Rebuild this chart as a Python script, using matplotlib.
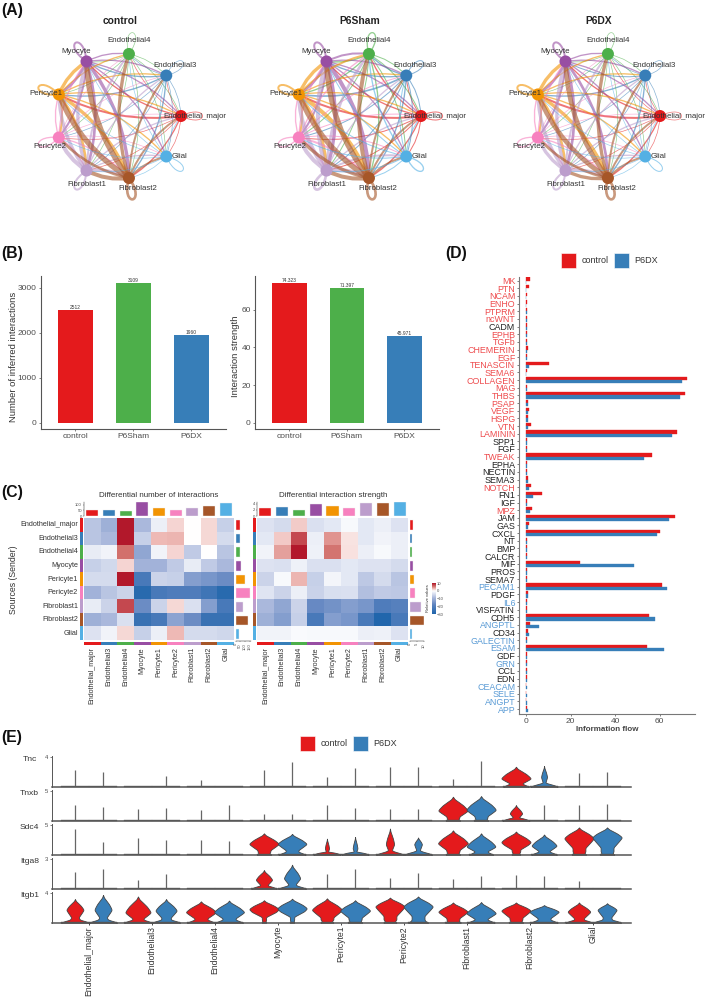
import numpy as np
import matplotlib
matplotlib.use("Agg")
import matplotlib.pyplot as plt
from matplotlib.colors import LinearSegmentedColormap, TwoSlopeNorm
from matplotlib.patches import PathPatch, Circle, Rectangle
from matplotlib.path import Path

plt.rcParams["font.family"] = ["Liberation Sans", "DejaVu Sans"]

W, H = 709, 997

cell_types = ["Endothelial_major", "Endothelial3", "Endothelial4", "Myocyte", "Pericyte1",
              "Pericyte2", "Fibroblast1", "Fibroblast2", "Glial"]
cell_colors = ["#E41A1C", "#377EB8", "#4DAF4A", "#984EA3", "#F29403",
               "#F781BF", "#BC9DCC", "#A65628", "#54B0E4"]

# panel A, edge weights (source in rows, target in columns)
network_titles = ["control", "P6Sham", "P6DX"]
control_weights = [
    [1.2, 1, 1, 2, 3, 1, 1, 2, 1],
    [1, 1, 1, 2, 2, 1, 1, 2, 1],
    [1, 1, 1, 1, 1, 1, 1, 1, 1],
    [2, 2, 2, 3, 4, 3, 4, 5, 2],
    [2, 2, 2, 5, 3, 3, 4, 5, 2],
    [1, 1, 1, 2, 2, 2, 2, 2, 1],
    [2, 2, 3, 5, 5, 6, 3, 5, 2],
    [3, 3, 5, 8, 8, 4, 6, 4, 3],
    [1, 1, 1, 1, 1, 1, 1, 1, 1.5],
]
sham_weights = [
    [1.5, 1.5, 2, 2, 3, 1.5, 1.5, 2, 1.5],
    [1.5, 1.5, 2, 2, 2.5, 1.5, 1.5, 2, 1.5],
    [1.5, 1.5, 2, 2, 2, 1.5, 1.5, 2, 1.5],
    [2, 2, 3, 3, 4, 3, 5, 6, 2],
    [2, 2, 3, 5, 3, 3, 5, 6, 2],
    [1.5, 1.5, 2, 2, 2, 2, 3, 3, 1.5],
    [2, 2, 4, 6, 6, 6, 4, 6, 3],
    [3, 3, 6, 8, 8, 5, 6, 4, 3],
    [1.5, 1.5, 2, 1.5, 1.5, 1.5, 1.5, 1.5, 2],
]
dx_weights = [
    [1, 1, 1, 2, 3, 1, 1, 2, 1],
    [1, 1, 1, 1.5, 2, 1, 1, 2, 1],
    [1, 1, 1, 1, 1, 1, 1, 1, 1],
    [2, 2, 2, 3, 4, 3, 4, 4, 2],
    [2, 2, 2, 5, 3, 3, 4, 5, 2],
    [1, 1, 1, 2, 2, 2, 2, 2, 1],
    [2, 2, 3, 5, 5, 5, 3, 5, 2],
    [3, 3, 5, 7, 7, 4, 5, 4, 3],
    [1, 1, 1, 1, 1, 1, 1, 1, 1.5],
]

# panel B
group_names = ["control", "P6Sham", "P6DX"]
group_colors = ["#E41A1C", "#4DAF4A", "#377EB8"]
interaction_counts = [2512, 3109, 1960]
interaction_strength = [74.323, 71.397, 45.971]

# panel C
diff_number = [
    [-2.5, -3.5, 10, -3, -0.7, 1.8, 0, 1.7, -2],
    [-2.5, -3, 10, -2, 3, 3.2, 0, 1.7, -1.5],
    [-0.8, -0.5, 6, -4, -0.5, 1.8, -2.2, 0, -2.5],
    [-2, -1.6, 1.8, -3.3, -3.3, -2.2, -0.8, -2.2, -3],
    [-1.5, -1.5, 10, -7.5, -1.8, -2, -4.5, -5, -5.5],
    [-3.3, -2.5, -1.8, -9.5, -7.5, -7, -7, -8, -9.5],
    [-0.8, -1.8, 7.8, -5.5, -1.8, 1.7, -1.3, -4.5, -7.5],
    [-3.5, -3, -1.3, -8.5, -7.5, -4.2, -5.5, -8.5, -8.5],
    [-1.2, -0.5, 1.7, -2, -0.7, 3, -1.5, -1.5, -1.7],
]
diff_strength = [
    [-1.2, -1.5, 2.2, -1.3, -1, -0.3, -1, -0.7, -1.2],
    [-1, 2.3, 7.8, -0.7, 4.5, 1.2, -1, -0.5, -0.7],
    [-0.5, 4, 10, -0.6, 5.8, 1.3, -0.7, -0.3, -0.7],
    [-1.2, -1.3, -0.6, -1.3, -1.3, -1, -1.2, -1.2, -1.5],
    [-1.8, -0.3, 3.2, -2, -0.4, -1, -2.3, -1.5, -2.5],
    [-1.1, -1.8, -0.7, -1.9, -1.4, -1.3, -2.7, -2.2, -2.3],
    [-3, -4, -1.8, -5.7, -5.2, -4.5, -5, -7, -6.5],
    [-3.5, -4.5, -2, -7.5, -4.5, -5, -7.5, -10, -7.5],
    [-0.5, -0.5, -0.2, -0.3, -0.3, -0.3, -0.7, -0.6, -1.2],
]
number_top = [52, 52, 42, 130, 70, 55, 70, 90, 118]
number_side = [53, 43, 43, 57, 96, 152, 78, 138, 35]
strength_top = [2.7, 2.9, 2.0, 4.0, 3.2, 2.7, 4.2, 4.3, 4.6]
strength_side = [2.3, 1.8, 1.8, 2.7, 3.0, 3.6, 8.2, 9.8, 1.4]
legend_ticks = [10, 0, -10, -20, -30]

# panel D
pathways = ["MK", "PTN", "NCAM", "ENHO", "PTPRM", "ncWNT", "CADM", "EPHB", "TGFb", "CHEMERIN",
            "EGF", "TENASCIN", "SEMA6", "COLLAGEN", "MAG", "THBS", "PSAP", "VEGF", "HSPG", "VTN",
            "LAMININ", "SPP1", "FGF", "TWEAK", "EPHA", "NECTIN", "SEMA3", "NOTCH", "FN1", "IGF",
            "MPZ", "JAM", "GAS", "CXCL", "NT", "BMP", "CALCR", "MIF", "PROS", "SEMA7",
            "PECAM1", "PDGF", "IL6", "VISFATIN", "CDH5", "ANGPTL", "CD34", "GALECTIN", "ESAM", "GDF",
            "GRN", "CCL", "EDN", "CEACAM", "SELE", "ANGPT", "APP"]
flow_control = [1.6, 1.0, 0.1, 0.1, 0.1, 0.1, 0.2, 0.1, 0.1, 0.6,
                0.4, 10.2, 0.1, 72.6, 0.2, 71.5, 0.9, 1.4, 0.9, 2.3,
                68, 0.4, 0.2, 56.6, 0.1, 0.1, 0.7, 2.0, 7, 0.2,
                2.4, 66.8, 1.1, 60, 0.1, 0.1, 0.1, 24.4, 0.2, 0.5,
                61, 0.6, 0.1, 0.1, 55.4, 1.8, 0.6, 0.2, 54.2, 0.1,
                0.1, 0.2, 0.2, 0, 0, 0, 0.1]
flow_dx = [0, 0, 0, 0, 0.1, 0.1, 0.1, 0.1, 0.1, 0.3,
           0.3, 1.0, 0.05, 70.3, 0.1, 69.2, 0.6, 0.6, 0.6, 0.9,
           65.8, 0.3, 0.1, 53.2, 0.1, 0.1, 0.6, 1.4, 2.8, 0.1,
           1.5, 64.5, 0.7, 59, 0.1, 0.1, 0.1, 48.4, 0.2, 0.5,
           63.4, 0.6, 0.15, 0.1, 57.8, 5.5, 1.0, 0.3, 62.2, 0.1,
           0.2, 0.5, 0.5, 0.1, 0.1, 0.1, 0.7]
red_pathways = ["MK", "PTN", "NCAM", "ENHO", "PTPRM", "ncWNT", "EPHB", "TGFb", "CHEMERIN", "EGF",
                "TENASCIN", "SEMA6", "COLLAGEN", "MAG", "THBS", "PSAP", "VEGF", "HSPG", "VTN",
                "LAMININ", "TWEAK", "NOTCH", "MPZ"]
blue_pathways = ["PECAM1", "IL6", "ANGPTL", "GALECTIN", "ESAM", "GRN", "CEACAM", "SELE", "ANGPT", "APP"]

# panel E, pairs of control / P6DX per cell type. peak 0 means only a spike
genes = ["Tnc", "Tnxb", "Sdc4", "Itga8", "Itgb1"]
gene_max_tick = [4, 5, 5, 3, 4]
tnc_top = [2.2, 2.0, 0, 1.4, 0.9, 0, 2.3, 3.3, 1.3, 2.5, 2.7, 2.6, 1.0, 3.5, 2.7, 2.8, 1.8, 2.0]
tnc_peak = [0, 0, 0, 0, 0, 0, 0, 0, 0, 0, 0, 0, 0, 0, 1.1, 1.3, 0, 0]
tnc_width = [0, 0, 0, 0, 0, 0, 0, 0, 0, 0, 0, 0, 0, 0, 1.0, 0.2, 0, 0]
tnc_base = [.95, .95, .95, .95, .95, .95, .95, .95, .95, .95, .95, .95, .95, .95, .9, .95, .95, .95]
tnxb_top = [2.7, 2.3, 1.9, 2.1, 1.8, 2.6, 1.05, 1.15, 2.6, 2.2, 1.9, 1.9, 4.0, 4.1, 2.6, 2.7, 2.6, 2.8]
tnxb_peak = [0, 0, 0, 0, 0, 0, 0, 0, 0, 0, 0, 0, 1.67, 1.8, 1.2, 0, 0, 0]
tnxb_width = [0, 0, 0, 0, 0, 0, 0, 0, 0, 0, 0, 0, 1.0, 1.0, 0.42, 0, 0, 0]
tnxb_base = [.95, .95, .95, .95, .95, .95, .95, .95, .95, .95, .95, .95, .5, .5, .95, .95, .95, .95]
sdc4_top = [4.3, 2.2, 2.8, 2.4, 2.5, 2.25, 3.6, 3.5, 2.7, 3.0, 4.4, 2.9, 4.1, 3.6, 3.9, 3.4, 4.6, 4.6]
sdc4_peak = [0, 0, 0, 0, 0, 0, 1.8, 1.8, 1.05, 1.05, 1.75, 1.75, 1.9, 1.35, 2.1, 1.5, 2.75, 2.9]
sdc4_width = [0, 0, 0, 0, 0, 0, 1.0, 0.98, 0.14, 0.16, 0.28, 0.26, 1.02, 0.98, 1.0, 0.85, 1.0, 1.0]
sdc4_base = [.95, .95, .95, .95, .95, .95, .5, .95, .95, .95, .98, .98, .5, .85, .3, .9, .5, .5]
itga8_top = [1.7, 2.05, 0.9, 1.45, 0, 0, 1.9, 2.45, 1.45, 2.0, 1.1, 1.6, 0.95, 1.3, 1.35, 1.3, 0.75, 0]
itga8_peak = [0, 0, 0, 0, 0, 0, 0.9, 1.05, 0, 0, 0, 0, 0, 0, 0, 0, 0, 0]
itga8_width = [0, 0, 0, 0, 0, 0, 0.55, 0.55, 0, 0, 0, 0, 0, 0, 0, 0, 0, 0]
itga8_base = [.95, .95, .95, .95, .95, .95, .9, .98, .95, .95, .95, .95, .95, .95, .95, .95, .95, .95]
itgb1_top = [3.15, 3.7, 3.5, 3.15, 2.85, 2.95, 3.0, 3.2, 3.25, 3.0, 3.35, 3.5, 2.7, 2.75, 2.7, 2.35, 2.7, 2.6]
itgb1_peak = [1.7, 1.7, 1.35, 1.6, 1.4, 1.4, 1.8, 1.9, 1.7, 1.6, 2.15, 2.15, 1.45, 1.25, 1.6, 1.45, 1.45, 1.7]
itgb1_width = [.58, .58, .86, .72, 1.02, 1.02, 1.0, 1.0, 1.02, 1.02, 1.0, 1.0, 1.0, 1.0, 1.0, 1.0, .77, .65]
itgb1_base = [.98, .98, .98, .98, .98, .98, .15, .15, .45, .5, .45, .7, .55, .95, .5, .95, .95, .98]

RED = "#E41A1C"
BLUE = "#377EB8"
GREY = "#4d4d4d"

fig = plt.figure(figsize=(W / 100, H / 100), dpi=100)


# helper so i can place every panel by pixels from the top left
def px_axes(x0, y0, x1, y1):
    return fig.add_axes([x0 / W, 1 - y1 / H, (x1 - x0) / W, (y1 - y0) / H])


# full page layer for the free text and legends
page = px_axes(0, 0, W, H)
page.set_xlim(0, W)
page.set_ylim(H, 0)
page.axis("off")

for letter, x, y in [("(A)", 1, 11), ("(B)", 1, 253), ("(C)", 1, 492), ("(D)", 445, 253), ("(E)", 1, 737)]:
    page.text(x, y, letter, fontsize=11.3, fontweight="bold", va="center", color="#111111")


def legend_row(x_ctrl, x_dx, y):
    for x, color, name in [(x_ctrl, RED, "control"), (x_dx, BLUE, "P6DX")]:
        page.add_patch(Rectangle((x, y - 7.5), 15, 15, facecolor=color, edgecolor="white", lw=0.4))
        page.text(x + 20.5, y, name, fontsize=6.5, va="center", color="#333333")


# panel A
label_offsets = [(14, 0), (9, -10), (0, -13), (-10, -10), (-13, -1), (-9, 9), (0, 14), (9, 10), (13, 0)]
rad = 63
angles = np.deg2rad(np.arange(9) * 40)
for title, weights, cx in zip(network_titles, [control_weights, sham_weights, dx_weights], [118, 358, 597]):
    page.text(cx + 2, 21, title, fontsize=7.4, fontweight="bold", ha="center", va="center", color="#222222")
    nx = cx + rad * np.cos(angles)
    ny = 116 - rad * np.sin(angles)
    for i in range(9):
        for j in range(9):
            lw = weights[i][j] * 0.48
            if i == j:
                # self loop pointing away from the circle
                a = angles[i]
                reach = 32
                c1 = (nx[i] + reach * np.cos(a + 0.45), ny[i] - reach * np.sin(a + 0.45))
                c2 = (nx[i] + reach * np.cos(a - 0.45), ny[i] - reach * np.sin(a - 0.45))
                verts = [(nx[i], ny[i]), c1, c2, (nx[i], ny[i])]
                codes = [Path.MOVETO, Path.CURVE4, Path.CURVE4, Path.CURVE4]
            else:
                mx, my = (nx[i] + nx[j]) / 2, (ny[i] + ny[j]) / 2
                dx, dy = nx[j] - nx[i], ny[j] - ny[i]
                verts = [(nx[i], ny[i]), (mx + 0.16 * dy, my - 0.16 * dx), (nx[j], ny[j])]
                codes = [Path.MOVETO, Path.CURVE3, Path.CURVE3]
            page.add_patch(PathPatch(Path(verts, codes), facecolor="none", edgecolor=cell_colors[i],
                                     lw=lw, alpha=0.6, capstyle="round", zorder=2))
    for i in range(9):
        page.add_patch(Circle((nx[i], ny[i]), 6, facecolor=cell_colors[i], edgecolor="none", zorder=3))
        page.text(nx[i] + label_offsets[i][0], ny[i] + label_offsets[i][1], cell_types[i],
                  fontsize=5.7, ha="center", va="center", color="#333333", zorder=4)


# panel B
def bar_panel(box, values, ylim, ticks, ylabel, labels, ylabel_x):
    ax = px_axes(*box)
    ax.bar(range(3), values, width=0.6, color=group_colors)
    for i, (v, s) in enumerate(zip(values, labels)):
        ax.text(i, v, s, ha="center", va="bottom", fontsize=3.5, color="#333333")
    ax.set_xlim(-0.595, 2.6)
    ax.set_ylim(*ylim)
    ax.set_xticks(range(3))
    ax.set_xticklabels(group_names)
    ax.set_yticks(ticks)
    ax.tick_params(labelsize=6, colors=GREY, length=1.5, width=0.5, pad=1.5)
    for s in ["top", "right"]:
        ax.spines[s].set_visible(False)
    for s in ["left", "bottom"]:
        ax.spines[s].set_color("#555555")
        ax.spines[s].set_linewidth(0.8)
    page.text(ylabel_x, (box[1] + box[3]) / 2 + 4, ylabel, rotation=90, fontsize=6.8, ha="center", va="center", color="#333333")
    return ax


bar_panel((41, 276, 226, 429), interaction_counts, (-140, 3267), [0, 1000, 2000, 3000],
          "Number of inferred interactions", ["2512", "3109", "1960"], 14)
bar_panel((255, 276, 439, 429), interaction_strength, (-3.35, 78), [0, 20, 40, 60],
          "Interaction strength", ["74.323", "71.397", "45.971"], 236)

# panel C, the middle stops give the slightly violet pastel of the original
heat_cmap = LinearSegmentedColormap.from_list(
    "rwb", [(0, "#2166ac"), (0.2, "#5f84c0"), (0.35, "#aab8dc"), (0.5, "#ffffff"),
            (0.65, "#eeb9b5"), (0.8, "#d2706c"), (1, "#b2182b")])


def heat_panel(x0, x1, matrix, top_vals, side_vals, top_ticks, side_ticks, title, title_x, top_scale, side_scale):
    y0, y1 = 518, 640
    ax = px_axes(x0, y0, x1, y1)
    ax.pcolormesh(np.array(matrix), cmap=heat_cmap, vmin=-10, vmax=10)
    ax.set_ylim(9, 0)
    ax.axis("off")

    # colour strips for the senders and receivers
    left = px_axes(x0 - 4, y0, x0 - 1, y1)
    left.bar([0] * 9, [1] * 9, bottom=np.arange(9), width=1, align="edge", color=cell_colors)
    left.set_xlim(0, 1)
    left.set_ylim(9, 0)
    left.axis("off")
    bottom = px_axes(x0, y1 + 1.5, x1, y1 + 4.5)
    bottom.bar(np.arange(9), [1] * 9, width=1, align="edge", color=cell_colors)
    bottom.set_xlim(0, 9)
    bottom.set_ylim(0, 1)
    bottom.axis("off")

    # marginal bars
    top = px_axes(x0, y0 - 16, x1, y0 - 2)
    top.bar(np.arange(9) + 0.5, top_vals, width=0.72, color=cell_colors, edgecolor="#eeeeee", lw=0.3)
    top.set_xlim(0, 9)
    top.set_ylim(0, top_scale)
    top.set_yticks(top_ticks)
    top.tick_params(axis="y", labelsize=3, length=1, width=0.3, pad=0.5, colors=GREY)
    top.set_xticks([])
    for s in ["top", "right", "bottom"]:
        top.spines[s].set_visible(False)
    top.spines["left"].set_linewidth(0.3)
    top.patch.set_alpha(0)

    side = px_axes(x1 + 1.5, y0, x1 + 16.5, y1 + 1)
    side.barh(np.arange(9) + 0.5, side_vals, height=0.7, color=cell_colors, edgecolor="#eeeeee", lw=0.3)
    side.set_ylim(9, 0)
    side.set_xlim(0, side_scale)
    side.set_xticks(side_ticks)
    side.tick_params(axis="x", labelsize=3, length=1, width=0.3, pad=0.5, colors=GREY, labelrotation=90)
    side.set_yticks([])
    for s in ["top", "right", "left"]:
        side.spines[s].set_visible(False)
    side.spines["bottom"].set_linewidth(0.3)
    side.patch.set_alpha(0)

    page.text(title_x, 495, title, fontsize=5.8, ha="center", va="center", color="#333333")
    cell_w = (x1 - x0) / 9
    for i, name in enumerate(cell_types):
        page.text(x0 + (i + 0.5) * cell_w, 647, name, rotation=90, fontsize=5.1, ha="center", va="top", color="#333333")


heat_panel(84, 234, diff_number, number_top, number_side, [0, 50, 100], [0, 50, 100, 150],
           "Differential number of interactions", 159, 127, 160)
heat_panel(257, 408, diff_strength, strength_top, strength_side, [0, 2, 4], [0, 5, 10],
           "Differential interaction strength", 333, 4.55, 10.3)

row_h = 122 / 9
for i, name in enumerate(cell_types):
    page.text(78, 518 + (i + 0.5) * row_h, name, fontsize=5.2, ha="right", va="center", color="#333333")
page.text(13, 580, "Sources (Sender)", rotation=90, fontsize=6.3, ha="center", va="center", color="#333333")

# colour key
key = px_axes(432, 583, 436, 614)
key_norm = TwoSlopeNorm(vcenter=0, vmin=-30, vmax=10)
key.imshow(np.linspace(10, -30, 60)[:, None], cmap=heat_cmap, norm=key_norm, aspect="auto", extent=[0, 1, -30, 10])
key.set_xticks([])
key.yaxis.tick_right()
key.set_yticks(legend_ticks)
key.tick_params(axis="y", labelsize=3, length=0, pad=0.8, colors=GREY)
for s in key.spines.values():
    s.set_visible(False)
page.text(428, 598, "Relative values", rotation=90, fontsize=3, ha="center", va="center", color="#333333")

# panel D
ax_d = px_axes(518.7, 277, 695, 713.7)
pos = np.arange(len(pathways))
ax_d.barh(pos - 0.21, flow_control, height=0.42, color=RED, edgecolor=RED, lw=0.25)
ax_d.barh(pos + 0.21, flow_dx, height=0.42, color=BLUE, edgecolor=BLUE, lw=0.25)
ax_d.set_ylim(56.6, -0.48)
ax_d.set_xlim((518.7 - 526.3) / 2.22, (695 - 526.3) / 2.22)
ax_d.set_yticks(pos)
ax_d.set_yticklabels(pathways, fontsize=6.4)
for lab, name in zip(ax_d.get_yticklabels(), pathways):
    if name in red_pathways:
        lab.set_color("#EE4B4D")
    elif name in blue_pathways:
        lab.set_color("#5A9BD5")
    else:
        lab.set_color("#222222")
ax_d.set_xticks([0, 20, 40, 60])
ax_d.tick_params(axis="x", labelsize=6, colors=GREY, length=1.5, width=0.5, pad=1.5)
ax_d.tick_params(axis="y", length=1.5, width=0.5, pad=1, color=GREY)
ax_d.set_xlabel("Information flow", fontsize=5.8, fontweight="bold", color="#444444", labelpad=1)
for s in ["top", "right"]:
    ax_d.spines[s].set_visible(False)
for s in ["left", "bottom"]:
    ax_d.spines[s].set_color("#777777")
    ax_d.spines[s].set_linewidth(0.8)
legend_row(561, 614, 260)

# panel E
gene_tops = [tnc_top, tnxb_top, sdc4_top, itga8_top, itgb1_top]
gene_peaks = [tnc_peak, tnxb_peak, sdc4_peak, itga8_peak, itgb1_peak]
gene_widths = [tnc_width, tnxb_width, sdc4_width, itga8_width, itgb1_width]
gene_bases = [tnc_base, tnxb_base, sdc4_base, itga8_base, itgb1_base]
row_baselines = [786.7, 820.7, 854.7, 888.7, 922.7]
row_unit_px = [7.4, 6.0, 5.94, 9.8, 7.5]
half_width = 0.227


def violin(ax, center, top, peak, width, base, color, unit_px):
    # outline made from the top, widest point and foot
    foot = 1.0 / unit_px
    if top <= 0 or peak <= 0:
        ax.fill_between([center - half_width * base, center + half_width * base], 0, foot * 1.1, color="#666666", lw=0.3)
        if top > 0:
            ax.plot([center, center], [0, top], color="#666666", lw=0.9, solid_capstyle="butt")
        return
    span = top - peak
    neck = min(0.45 * width, max(base, 0.06))
    ys = [0, foot * 1.5, foot * 3, peak * 0.42, peak * 0.8, peak, peak + span * 0.14,
          peak + span * 0.38, peak + span * 0.62, peak + span * 0.82, top]
    ws = [base, base * 0.75, max(neck, base * 0.35), neck, width * 0.85, width * 1.04, width * 0.95,
          width * 0.72, width * 0.4, width * 0.12, 0]
    yy = np.linspace(0, top, 160)
    ww = np.interp(yy, sorted(ys), ws)
    ww[5:-5] = np.convolve(ww, np.ones(11) / 11, mode="valid")
    ax.fill_betweenx(yy, center - half_width * ww, center + half_width * ww, facecolor=color, edgecolor="#444444", lw=0.6)
    ax.fill_between([center - half_width * base, center + half_width * base], 0, foot * 1.1, color="#555555", lw=0.3)


for r, gene in enumerate(genes):
    base_y = row_baselines[r]
    ax = px_axes(51.7, base_y - 31, 631, base_y)
    ax.set_xlim(-0.592, 8.603)
    ax.set_ylim(0, 31 / row_unit_px[r])
    for c in range(9):
        for g, color in enumerate([RED, BLUE]):
            k = c * 2 + g
            center = c + (g - 0.5) * 0.446
            violin(ax, center, gene_tops[r][k], gene_peaks[r][k], gene_widths[r][k], gene_bases[r][k], color, row_unit_px[r])
    for s in ["top", "right"]:
        ax.spines[s].set_visible(False)
    ax.spines["left"].set_color("#555555")
    ax.spines["left"].set_linewidth(0.7)
    ax.spines["bottom"].set_color("#555555")
    ax.spines["bottom"].set_linewidth(1.1)
    ax.set_yticks([gene_max_tick[r]])
    ax.tick_params(axis="y", labelsize=4.2, length=1.5, width=0.5, pad=1, colors=GREY)
    if r == 4:
        ax.set_xticks(range(9))
        ax.set_xticklabels(cell_types, rotation=90, fontsize=6.2, color="#333333")
        ax.tick_params(axis="x", length=1.5, width=0.5, pad=0.8)
    else:
        ax.set_xticks([])
    ax.patch.set_alpha(0)
    page.text(29.5, base_y - 27.5, gene, fontsize=6.1, ha="center", va="center", color="#333333")
legend_row(300, 353, 743.5)

plt.savefig("out.png", dpi=100)
